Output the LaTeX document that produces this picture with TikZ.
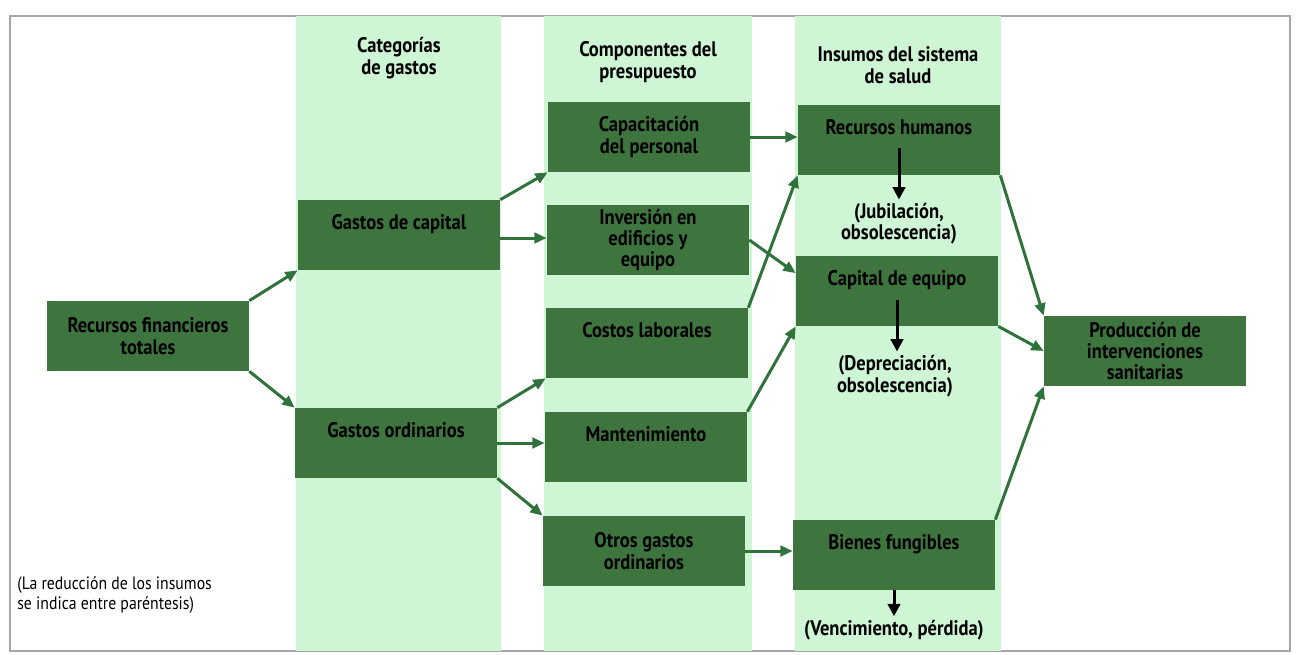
\documentclass[tikz,border=0pt]{standalone}
\usepackage{fontspec}
\setmainfont{PT Sans}[FakeStretch=0.88]
\usepackage{tikz}
\usetikzlibrary{arrows,arrows.meta}
\usepackage{xcolor}
\definecolor{boxgreen}{RGB}{62,117,62}
\definecolor{bandgreen}{RGB}{206,245,212}
\definecolor{arrowgreen}{RGB}{48,114,60}
\tikzstyle{darkbox}=[fill=boxgreen, minimum width=4.04cm, minimum height=1.4cm, inner sep=0pt, align=center, font=\fontsize{12}{12.2}\selectfont\bfseries]
\tikzstyle{upper}=[text height=0.28cm, text depth=0.5cm]
\tikzstyle{heading}=[align=center, inner sep=2pt, font=\fontsize{12}{12.2}\selectfont\bfseries]
\tikzstyle{flow}=[draw=arrowgreen, line width=1.7pt, -{Triangle[length=7pt,width=6pt]}]
\tikzstyle{loss}=[draw=black, line width=1.7pt, -{Triangle[length=7pt,width=7pt]}]
\newcommand{\bandcol}[2]{
	\fill[bandgreen] (#1,16) rectangle (#2,651);
}

\begin{document}
\begin{tikzpicture}[x=0.02cm, y=-0.02cm]
	\useasboundingbox (0,0) rectangle (1296,654);
	\fill[white] (0,0) rectangle (1296,654);
	\draw[gray!70, line width=0.6pt] (10,16) rectangle (1290,651);
	\bandcol{296}{501}
	\bandcol{544}{752}
	\bandcol{795}{1001}
	\node[heading] (hcat) at (399,58) {Categorías\\de gastos};
	\node[heading] (hcomp) at (648,62) {Componentes del\\presupuesto};
	\node[heading] (hins) at (898,65) {Insumos del sistema\\de salud};
	\node[darkbox] (rft) at (148,336) {Recursos financieros\\totales};
	\node[darkbox, upper] (gcap) at (399,235) {Gastos de capital};
	\node[darkbox, upper] (gord) at (396,443) {Gastos ordinarios};
	\node[darkbox] (cap) at (649,137) {Capacitación\\del personal};
	\node[darkbox] (inv) at (648,240) {Inversión en\\edificios y\\equipo};
	\node[darkbox, upper] (cl) at (647,343) {Costos laborales};
	\node[darkbox, upper] (mant) at (646,447) {Mantenimiento};
	\node[darkbox] (otros) at (644,551) {Otros gastos\\ordinarios};
	\node[darkbox, upper] (rh) at (899,140) {Recursos humanos};
	\node[darkbox, upper] (ce) at (897,291) {Capital de equipo};
	\node[darkbox, upper] (bf) at (894,555) {Bienes fungibles};
	\node[darkbox] (prod) at (1145,351) {Producción de\\intervenciones\\sanitarias};
	\node[heading] (jub) at (899,224) {(Jubilación,\\obsolescencia)};
	\node[heading] (dep) at (895,376) {(Depreciación,\\obsolescencia)};
	\node[heading] (venc) at (894,630) {(Vencimiento, pérdida)};
	\node[anchor=west, align=left, inner sep=0pt, font=\fontsize{10.2}{11.3}\selectfont] (nota) at (17,595) {(La reducción de los insumos\\se indica entre paréntesis)};
	\coordinate (rhdrop) at ([yshift=-0.16cm]rh.center);
	\coordinate (cedrop) at ([yshift=-0.18cm]ce.center);
	\draw[flow] (rft.north east) -- (gcap.south west);
	\draw[flow] (rft.south east) -- (gord.north west);
	\draw[flow] (gcap.north east) -- (cap.south west);
	\draw[flow] ([yshift=-0.06cm]gcap.east) -- ([yshift=-0.06cm]gcap.east -| inv.west);
	\draw[flow] (gord.north east) -- (cl.south west);
	\draw[flow] (gord.east) -- (gord.east -| mant.west);
	\draw[flow] (gord.south east) -- (otros.north west);
	\draw[flow] (cap.east) -- (cap.east -| rh.west);
	\draw[flow] (inv.east) -- (ce.170);
	\draw[flow] (cl.north east) -- (rh.south west);
	\draw[flow] (mant.north east) -- (ce.south west);
	\draw[flow] (otros.east) -- (otros.east -| bf.west);
	\draw[flow] (rh.south east) -- (prod.north west);
	\draw[flow] (ce.south east) -- (prod.west);
	\draw[flow] (bf.north east) -- (prod.south west);
	\draw[loss] (rhdrop) -- (rhdrop |- jub.north);
	\draw[loss] (cedrop) -- (cedrop |- dep.north);
	\draw[loss] (bf.south) -- (bf.south |- venc.north);
\end{tikzpicture}
\end{document}
